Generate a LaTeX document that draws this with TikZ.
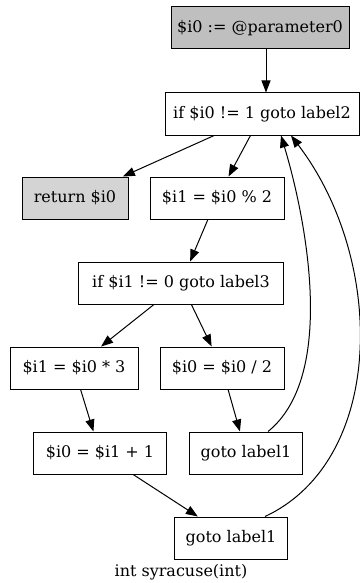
\documentclass[tikz,border=0pt]{standalone}
\usepackage{fontspec}
\setmainfont{DejaVu Serif}
\usetikzlibrary{arrows.meta}

\begin{document}
\begin{tikzpicture}[x=1pt,y=-1pt,line width=1pt,
  >={Triangle[length=12pt,width=9pt]},
  box/.style={draw,fill=white,minimum height=42pt,inner sep=0pt,font=\fontsize{16}{19}\selectfont}]
\useasboundingbox (0,0) rectangle (359,583);

\node[box,fill=black!25,minimum width=178pt] (param) at (260,28) {\$i0 := @parameter0};
\node[box,minimum width=194pt] (cond1) at (262,114) {if \$i0 != 1 goto label2};
\node[box,fill=black!17,minimum width=106pt] (ret) at (75,198) {return \$i0};
\node[box,minimum width=134pt] (mod) at (217,198) {\$i1 = \$i0 \% 2};
\node[box,minimum width=205pt] (cond2) at (181,283) {if \$i1 != 0 goto label3};
\node[box,minimum width=128pt] (mul) at (74,368) {\$i1 = \$i0 * 3};
\node[box,minimum width=124pt] (div) at (222,368) {\$i0 = \$i0 / 2};
\node[box,minimum width=133pt] (inc) at (100,453) {\$i0 = \$i1 + 1};
\node[box,minimum width=113pt] (loopa) at (246,453) {goto label1};
\node[box,minimum width=113pt] (loopb) at (231,538) {goto label1};
\node[font=\fontsize{16}{19}\selectfont] (title) at (181,572) {int syracuse(int)};

\draw[->] ([xshift=6pt]param.south) -- ([xshift=4pt]cond1.north);
\draw[->] (cond1) -- (ret);
\draw[->] (cond1) -- (mod);
\draw[->] (mod) -- (cond2);
\draw[->] (cond2) -- (mul);
\draw[->] (cond2) -- (div);
\draw[->] (mul) -- (inc);
\draw[->] (div) -- (loopa);
\draw[->] (inc) -- (loopb);
\draw[->] ([xshift=22pt]loopa.north) .. controls (338,375) and (305,215) .. ([xshift=19pt]cond1.south);
\draw[->] ([xshift=34pt]loopb.north) .. controls (386,460) and (386,260) .. ([xshift=29pt]cond1.south);
\end{tikzpicture}
\end{document}
